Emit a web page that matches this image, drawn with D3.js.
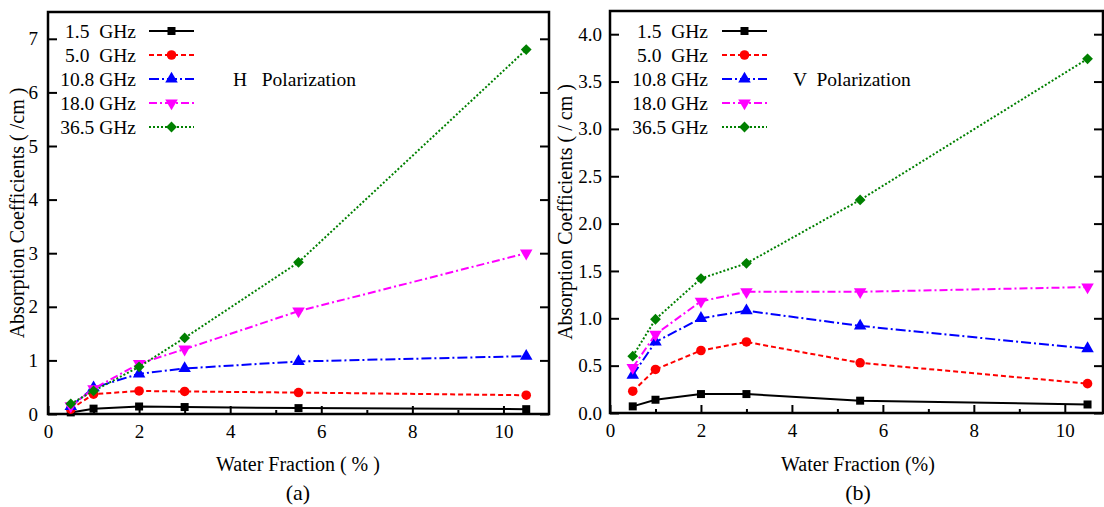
<!DOCTYPE html>
<html>
<head>
<meta charset="utf-8">
<script src="https://cdn.jsdelivr.net/npm/d3@7"></script>
<style>
  html, body { margin: 0; padding: 0; background: #fff; }
</style>
</head>
<body>
<svg id="chart" width="1104" height="507"></svg>
<script>
// Water fraction (%) at which absorption was computed
const waterFraction = [0.5, 1, 2, 3, 5.5, 10.5];
const frequencies = ["1.5  GHz", "5.0  GHz", "10.8 GHz", "18.0 GHz", "36.5 GHz"];

// H polarization absorption coefficients (/cm)
const hPol_1_5  = [0.03, 0.10, 0.14, 0.13, 0.11, 0.09];
const hPol_5_0  = [0.09, 0.37, 0.43, 0.42, 0.40, 0.35];
const hPol_10_8 = [0.14, 0.49, 0.75, 0.85, 0.98, 1.08];
const hPol_18_0 = [0.15, 0.47, 0.94, 1.21, 1.92, 3.00];
const hPol_36_5 = [0.19, 0.43, 0.88, 1.42, 2.83, 6.80];

// V polarization absorption coefficients (/cm)
const vPol_1_5  = [0.07, 0.14, 0.20, 0.20, 0.13, 0.09];
const vPol_5_0  = [0.23, 0.46, 0.66, 0.75, 0.53, 0.31];
const vPol_10_8 = [0.40, 0.75, 1.00, 1.08, 0.92, 0.68];
const vPol_18_0 = [0.48, 0.83, 1.18, 1.28, 1.28, 1.33];
const vPol_36_5 = [0.60, 0.99, 1.42, 1.58, 2.25, 3.74];

const xTicksMajor = [0, 2, 4, 6, 8, 10];
const xTicksMinor = [1, 3, 5, 7, 9];
const hYTicks = [0, 1, 2, 3, 4, 5, 6, 7];
const vYTicks = [0, 0.5, 1.0, 1.5, 2.0, 2.5, 3.0, 3.5, 4.0];

const FONT = '"Liberation Serif", "DejaVu Serif", "Times New Roman", Times, serif';

// Visual style for each frequency series
const styles = [
  { color: "#000000", dash: null,            symbol: d3.symbolSquare,   size: 64,  rot: 0 },
  { color: "#ff0000", dash: "5,3",           symbol: d3.symbolCircle,   size: 72,  rot: 0 },
  { color: "#0000ff", dash: "10,3,2,3",      symbol: d3.symbolTriangle, size: 68,  rot: 0 },
  { color: "#ff00ff", dash: "8,3,2,3",       symbol: d3.symbolTriangle, size: 68,  rot: 180 },
  { color: "#008000", dash: "2,2",           symbol: d3.symbolSquare,   size: 58,  rot: 45 }
];

const svg = d3.select("#chart");

function styleText(sel, size) {
  sel.style("font-family", FONT).style("font-size", size + "px").style("fill", "#000");
}

function drawPanel(cfg) {
  const g = svg.append("g");
  const x = d3.scaleLinear().domain(cfg.xDomain).range([cfg.left, cfg.right]);
  const y = d3.scaleLinear().domain(cfg.yDomain).range([cfg.bottom, cfg.top]);

  // Inward ticks on the bottom axis (major and minor)
  const bottom = g.append("g").attr("transform", `translate(0,${cfg.bottom})`);
  bottom.call(d3.axisBottom(x).tickValues(xTicksMajor).tickSizeInner(-8).tickSizeOuter(0)
      .tickPadding(11).tickFormat(d3.format("d")));
  bottom.append("g").call(d3.axisBottom(x).tickValues(xTicksMinor).tickSizeInner(-4).tickSizeOuter(0).tickFormat(""));
  bottom.selectAll(".domain").remove();
  bottom.selectAll("line").attr("stroke", "#000").attr("stroke-width", 2);
  styleText(bottom.selectAll("text"), 19);

  // Left axis with inward ticks, mirrored on the right edge
  const left = g.append("g").attr("transform", `translate(${cfg.left},0)`);
  left.call(d3.axisLeft(y).tickValues(cfg.yTicks).tickSizeInner(-9).tickSizeOuter(0)
      .tickPadding(cfg.yPad).tickFormat(cfg.yFormat));
  left.selectAll(".domain").remove();
  left.selectAll("line").attr("stroke", "#000").attr("stroke-width", 2);
  styleText(left.selectAll("text"), 19);

  const right = g.append("g").attr("transform", `translate(${cfg.right},0)`);
  right.call(d3.axisRight(y).tickValues(cfg.yTicks).tickSizeInner(-9).tickSizeOuter(0).tickFormat(""));
  right.selectAll(".domain").remove();
  right.selectAll("line").attr("stroke", "#000").attr("stroke-width", 2);

  // Plot frame
  g.append("rect")
    .attr("x", cfg.left).attr("y", cfg.top)
    .attr("width", cfg.right - cfg.left).attr("height", cfg.bottom - cfg.top)
    .attr("fill", "none").attr("stroke", "#000").attr("stroke-width", 2.5);

  // Series lines and markers
  const line = d3.line().x((d, i) => x(waterFraction[i])).y(d => y(d));
  cfg.series.forEach((vals, k) => {
    const s = styles[k];
    g.append("path").datum(vals)
      .attr("d", line).attr("fill", "none")
      .attr("stroke", s.color).attr("stroke-width", 2)
      .attr("stroke-dasharray", s.dash);
    g.selectAll(null).data(vals).enter().append("path")
      .attr("d", d3.symbol().type(s.symbol).size(s.size))
      .attr("transform", (d, i) => `translate(${x(waterFraction[i])},${y(d)}) rotate(${s.rot})`)
      .attr("fill", s.color);
  });

  // Legend
  frequencies.forEach((name, k) => {
    const s = styles[k];
    const ly = cfg.legendY + k * 24;
    styleText(g.append("text").attr("x", cfg.legendTextX).attr("y", ly + 6.5)
      .attr("text-anchor", "end").style("white-space", "pre")
      .text(name), 19.5);
    g.append("line")
      .attr("x1", cfg.legendLineX).attr("x2", cfg.legendLineX + 45)
      .attr("y1", ly).attr("y2", ly)
      .attr("stroke", s.color).attr("stroke-width", 2)
      .attr("stroke-dasharray", s.dash);
    g.append("path")
      .attr("d", d3.symbol().type(s.symbol).size(s.size)())
      .attr("transform", `translate(${cfg.legendLineX + 22.5},${ly}) rotate(${s.rot})`)
      .attr("fill", s.color);
  });
  styleText(g.append("text").attr("x", cfg.polX).attr("y", cfg.legendY + 2 * 24 + 6.5)
    .style("white-space", "pre").text(cfg.polLabel), 19.5);

  // Axis titles and panel caption
  styleText(g.append("text").attr("x", cfg.xTitleX).attr("y", 471)
    .attr("text-anchor", "middle").style("white-space", "pre")
    .text(cfg.xTitle), 20);
  styleText(g.append("text").attr("x", cfg.xTitleX).attr("y", 500)
    .attr("text-anchor", "middle").text(cfg.caption), 22);
  styleText(g.append("text")
    .attr("transform", `translate(${cfg.yTitleX},${(cfg.top + cfg.bottom) / 2}) rotate(-90)`)
    .attr("text-anchor", "middle").style("white-space", "pre")
    .text(cfg.yTitle), 20);
}

drawPanel({
  left: 48, right: 549, top: 12, bottom: 414,
  xDomain: [0, 11], yDomain: [0, 7.5],
  yTicks: hYTicks, yFormat: d3.format("d"), yPad: 10,
  series: [hPol_1_5, hPol_5_0, hPol_10_8, hPol_18_0, hPol_36_5],
  legendY: 31, legendTextX: 136, legendLineX: 149,
  polX: 233, polLabel: "H   Polarization",
  xTitle: "Water Fraction ( % )", xTitleX: 298, caption: "(a)",
  yTitle: "Absorption Coefficients ( /cm )", yTitleX: 24
});

drawPanel({
  left: 610, right: 1103, top: 11, bottom: 413,
  xDomain: [0, 10.84], yDomain: [0, 4.245],
  yTicks: vYTicks, yFormat: d3.format(".1f"), yPad: 8,
  series: [vPol_1_5, vPol_5_0, vPol_10_8, vPol_18_0, vPol_36_5],
  legendY: 31, legendTextX: 708, legendLineX: 722,
  polX: 793, polLabel: "V  Polarization",
  xTitle: "Water Fraction (%)", xTitleX: 858, caption: "(b)",
  yTitle: "Absorption Coefficients ( / cm )", yTitleX: 572
});
</script>
</body>
</html>
